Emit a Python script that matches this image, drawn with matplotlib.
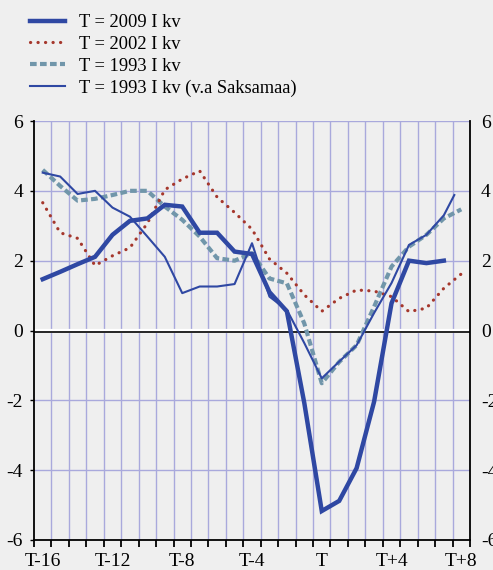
import numpy as np
import matplotlib
matplotlib.use("Agg")
from matplotlib import pyplot as plt
from matplotlib.ticker import FixedLocator

plt.rcParams['font.family'] = ['Liberation Serif', 'DejaVu Serif']

# data, one value per quarter T-16 ... T+8
quarters = ['T-16', 'T-15', 'T-14', 'T-13', 'T-12', 'T-11', 'T-10', 'T-9', 'T-8',
            'T-7', 'T-6', 'T-5', 'T-4', 'T-3', 'T-2', 'T-1', 'T', 'T+1', 'T+2',
            'T+3', 'T+4', 'T+5', 'T+6', 'T+7', 'T+8']
shown_labels = ['T-16', 'T-12', 'T-8', 'T-4', 'T', 'T+4', 'T+8']

t2009 = [1.47, 1.68, 1.9, 2.11, 2.74, 3.14, 3.21, 3.6, 3.55, 2.8, 2.8, 2.26,
         2.19, 1.1, 0.55, -2.08, -5.17, -4.88, -3.94, -2.04, 0.78, 2.0, 1.93, 2.0]
t2002 = [3.66, 2.8, 2.64, 1.86, 2.14, 2.37, 3.07, 4.03, 4.34, 4.57, 3.82, 3.38,
         2.9, 2.05, 1.64, 1.02, 0.55, 0.92, 1.16, 1.13, 0.97, 0.54, 0.64, 1.21, 1.62]
t1993 = [4.6, 4.14, 3.72, 3.77, 3.88, 4.0, 4.0, 3.55, 3.17, 2.69, 2.07, 2.0,
         2.21, 1.49, 1.35, 0.2, -1.51, -0.9, -0.42, 0.68, 1.83, 2.4, 2.74, 3.21, 3.47]
t1993_exde = [4.52, 4.41, 3.91, 4.0, 3.52, 3.26, 2.69, 2.11, 1.07, 1.26, 1.26, 1.33,
              2.5, 0.97, 0.59, -0.36, -1.37, -0.89, -0.42, 0.5, 1.36, 2.45, 2.74, 3.3, 3.88]
# last point of this series sits a bit left of the T+8 centre in the original
t1993_exde_x = list(range(24)) + [23.6]

bg = '#efefef'
grid_c = '#a9a9dc'
blue = '#2f48a3'
red = '#a5372c'
teal = '#7196aa'

fig = plt.figure(figsize=(4.93, 5.70), dpi=100, facecolor=bg)
ax = fig.add_axes([34/493, 1-540/570, 436/493, 419/570])
ax.set_facecolor(bg)

x = np.arange(len(quarters))

ax.plot(x, t1993, color=teal, lw=3.0, linestyle=(0, (1.6, 0.8)),
        label='T = 1993 I kv', zorder=3)
ax.plot(x, t2002, color=red, lw=2.3, linestyle=(0, (0.05, 2.3)),
        dash_capstyle='round', label='T = 2002 I kv', zorder=3)
ax.plot(t1993_exde_x, t1993_exde, color=blue, lw=1.5,
        label='T = 1993 I kv (v.a Saksamaa)', zorder=4)
ax.plot(x[:len(t2009)], t2009, color=blue, lw=3.2, solid_joinstyle='miter',
        label='T = 2009 I kv', zorder=5)

ax.set_xlim(-0.5, len(quarters) - 0.5)
ax.set_ylim(-6, 6)

# gridlines between categories, horizontal every 2
for k in range(1, len(quarters)):
    ax.axvline(k - 0.5, color=grid_c, lw=1.0, zorder=1)
for v in [-4, -2, 2, 4, 6]:
    ax.axhline(v, color=grid_c, lw=1.0, zorder=1)
ax.axhline(0, color='white', lw=3, zorder=2)
ax.axhline(-0.03, color='black', lw=1.2, zorder=2)

ax.spines['top'].set_visible(False)
for s in ['left', 'right', 'bottom']:
    ax.spines[s].set_color('black')
    ax.spines[s].set_linewidth(1.3)

ax.set_yticks([-6, -4, -2, 0, 2, 4, 6])
ax.set_yticklabels(['-6', '-4', '-2', '0', '2', '4', '6'])
ax.tick_params(axis='y', labelsize=14, length=3, width=1, pad=5,
               left=True, right=False, labelright=True, labelleft=True)

ax.set_xticks([quarters.index(q) for q in shown_labels])
ax.set_xticklabels(shown_labels)
ax.xaxis.set_minor_locator(FixedLocator(np.arange(len(quarters) + 1) - 0.5))
ax.tick_params(axis='x', which='major', length=0, labelsize=14, pad=9)
ax.tick_params(axis='x', which='minor', length=5, width=1.3, direction='out')

handles, labels = ax.get_legend_handles_labels()
order = [3, 1, 0, 2]
fig.legend([handles[i] for i in order], [labels[i] for i in order],
           loc='upper left', bbox_to_anchor=(30/493, 1-14/570), frameon=False,
           fontsize=13.3, handlelength=1.9, handletextpad=0.75, labelspacing=0.26,
           borderpad=0, borderaxespad=0)

fig.savefig('out.png', dpi=100, facecolor=bg)
